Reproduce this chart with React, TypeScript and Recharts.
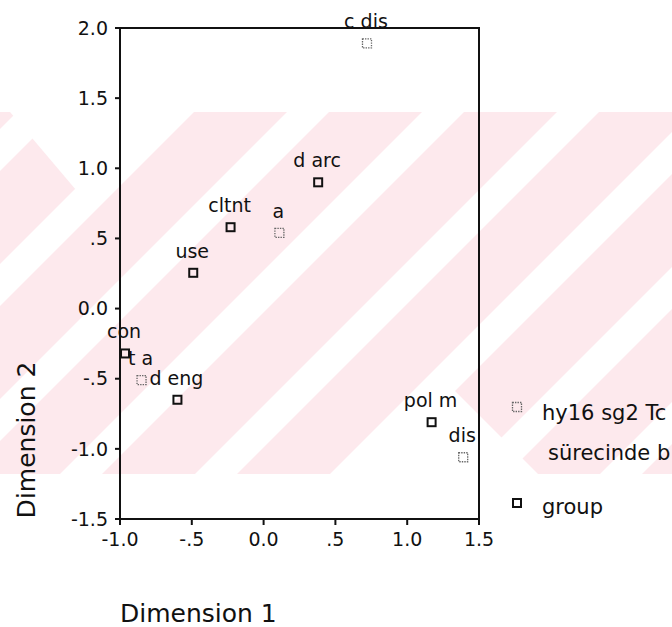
import React from 'react';
import { ScatterChart, Scatter, XAxis, YAxis, ReferenceArea } from 'recharts';

// ---- data ----
const seriesNames = ['hy16 sg2 Tc', 'group'];
const legendSecondLine = 'sürecinde b';

const dottedLabels = ['c dis', 'a', 't a', 'dis'];
const dottedX = [0.72, 0.11, -0.85, 1.39];
const dottedY = [1.89, 0.54, -0.51, -1.06];

const groupLabels = ['d arc', 'cltnt', 'use', 'con', 'd eng', 'pol m'];
const groupX = [0.38, -0.23, -0.49, -0.965, -0.6, 1.17];
const groupY = [0.9, 0.58, 0.255, -0.32, -0.65, -0.81];

const xTicks = [-1, -0.5, 0, 0.5, 1, 1.5];
const xTickLabels = ['-1.0', '-.5', '0.0', '.5', '1.0', '1.5'];
const yTicks = [-1.5, -1, -0.5, 0, 0.5, 1, 1.5, 2];
const yTickLabels = ['-1.5', '-1.0', '-.5', '0.0', '.5', '1.0', '1.5', '2.0'];

const xTitle = 'Dimension 1';
const yTitle = 'Dimension 2';

const dottedData = dottedLabels.map((name, i) => ({ name, x: dottedX[i], y: dottedY[i] }));
const groupData = groupLabels.map((name, i) => ({ name, x: groupX[i], y: groupY[i] }));

const FONT = '"DejaVu Sans", "Liberation Sans", Arial, sans-serif';
const INK = '#111';
const PINK = '#fde9ed';

const fmtX = (v: number) => xTickLabels[xTicks.indexOf(v)] ?? String(v);
const fmtY = (v: number) => yTickLabels[yTicks.indexOf(v)] ?? String(v);

// background watermark (decoration only)
const WM_TOP = 112;
const WM_BOTTOM = 474;
const stripeCenters = [150, 285, 420, 555, 690, 825, 960, 1095];
const stripeWidth = 42;

const Watermark = () => (
  <svg width={672} height={627} style={{ position: 'absolute', left: 0, top: 0 }}>
    <defs>
      <clipPath id="wmclip">
        <rect x={0} y={WM_TOP} width={672} height={WM_BOTTOM - WM_TOP} />
      </clipPath>
    </defs>
    <g clipPath="url(#wmclip)">
      <rect x={0} y={WM_TOP} width={672} height={WM_BOTTOM - WM_TOP} fill={PINK} />
      {stripeCenters.map((c) => {
        const a = c - stripeWidth / 2;
        const b = c + stripeWidth / 2;
        return (
          <polygon
            key={c}
            fill="#fff"
            points={`${a - WM_TOP},${WM_TOP} ${b - WM_TOP},${WM_TOP} ${b - WM_BOTTOM},${WM_BOTTOM} ${a - WM_BOTTOM},${WM_BOTTOM}`}
          />
        );
      })}
      <polygon fill="#fff" points={`10,${WM_TOP} 180,${WM_TOP} 87,203`} />
      <polygon fill="#fff" points={`442,378 346,${WM_BOTTOM} 538,${WM_BOTTOM}`} />
    </g>
  </svg>
);

const PointLabel = ({ cx, cy, text }: any) => (
  <text x={cx - 1} y={cy - 15} textAnchor="middle" fontFamily={FONT} fontSize={19} fill={INK}>
    {text}
  </text>
);

const DarkShape = (props: any) => {
  const { cx, cy, payload } = props;
  return (
    <g>
      <rect x={cx - 4} y={cy - 4} width={8} height={8} fill="none" stroke={INK} strokeWidth={2} />
      <PointLabel cx={cx} cy={cy} text={payload.name} />
    </g>
  );
};

const DottedShape = (props: any) => {
  const { cx, cy, payload } = props;
  return (
    <g>
      <rect
        x={cx - 4.5}
        y={cy - 4.5}
        width={9}
        height={9}
        fill="none"
        stroke="#666"
        strokeWidth={1.3}
        strokeDasharray="1.4 1.1"
      />
      <PointLabel cx={cx} cy={cy} text={payload.name} />
    </g>
  );
};

const LegendBox = () => (
  <svg width={167} height={140} style={{ display: 'block', overflow: 'hidden' }}>
    <rect x={7.5} y={12.5} width={9} height={9} fill="none" stroke="#666" strokeWidth={1.3} strokeDasharray="1.4 1.1" />
    <text x={37} y={30} fontFamily={FONT} fontSize={21} fill={INK}>{seriesNames[0]}</text>
    <text x={43} y={70} fontFamily={FONT} fontSize={21} fill={INK}>{legendSecondLine}</text>
    <rect x={8} y={109} width={8} height={8} fill="none" stroke={INK} strokeWidth={2} />
    <text x={37} y={124} fontFamily={FONT} fontSize={21} fill={INK}>{seriesNames[1]}</text>
  </svg>
);

const XTitle = (p: any) => {
  const vb = p.viewBox || { x: 0, y: 0, width: 0, height: 0 };
  return (
    <text x={vb.x} y={vb.y + vb.height - 5} fontFamily={FONT} fontSize={25} fill={INK}>
      {xTitle}
    </text>
  );
};

const YTitle = (p: any) => {
  const vb = p.viewBox || { x: 0, y: 0, width: 0, height: 0 };
  const x = vb.x + 35;
  const y = vb.y + vb.height - 79;
  return (
    <text x={x} y={y} transform={`rotate(-90 ${x} ${y})`} textAnchor="middle" fontFamily={FONT} fontSize={25} fill={INK}>
      {yTitle}
    </text>
  );
};

export default function App() {
  return (
    <div style={{ position: 'absolute', left: 0, top: 0, width: 672, height: 627, overflow: 'hidden', background: '#fff' }}>
      <Watermark />
      <div style={{ position: 'absolute', left: 0, top: 0 }}>
        <ScatterChart width={672} height={627} margin={{ top: 28, right: 193, bottom: 0, left: 0 }}>
          <XAxis
            type="number"
            dataKey="x"
            domain={[-1, 1.5]}
            ticks={xTicks}
            tickFormatter={fmtX}
            interval={0}
            height={108}
            axisLine={{ stroke: INK, strokeWidth: 2 }}
            tickLine={{ stroke: INK, strokeWidth: 2 }}
            tickSize={6}
            tickMargin={8}
            tick={{ fill: INK, fontSize: 19, fontFamily: FONT }}
            label={{ content: XTitle }}
          />
          <YAxis
            type="number"
            dataKey="y"
            domain={[-1.5, 2]}
            ticks={yTicks}
            tickFormatter={fmtY}
            interval={0}
            width={120}
            axisLine={{ stroke: INK, strokeWidth: 2 }}
            tickLine={{ stroke: INK, strokeWidth: 2 }}
            tickSize={5}
            tickMargin={7}
            tick={{ fill: INK, fontSize: 19, fontFamily: FONT }}
            label={{ content: YTitle }}
          />
          <ReferenceArea x1={-1} x2={1.5} y1={-1.5} y2={2} fill="none" fillOpacity={0} stroke={INK} strokeWidth={2} />
          <Scatter name={seriesNames[0]} data={dottedData} shape={DottedShape} isAnimationActive={false} />
          <Scatter name={seriesNames[1]} data={groupData} shape={DarkShape} isAnimationActive={false} />
        </ScatterChart>
      </div>
      <div style={{ position: 'absolute', left: 505, top: 390 }}>
        <LegendBox />
      </div>
    </div>
  );
}
